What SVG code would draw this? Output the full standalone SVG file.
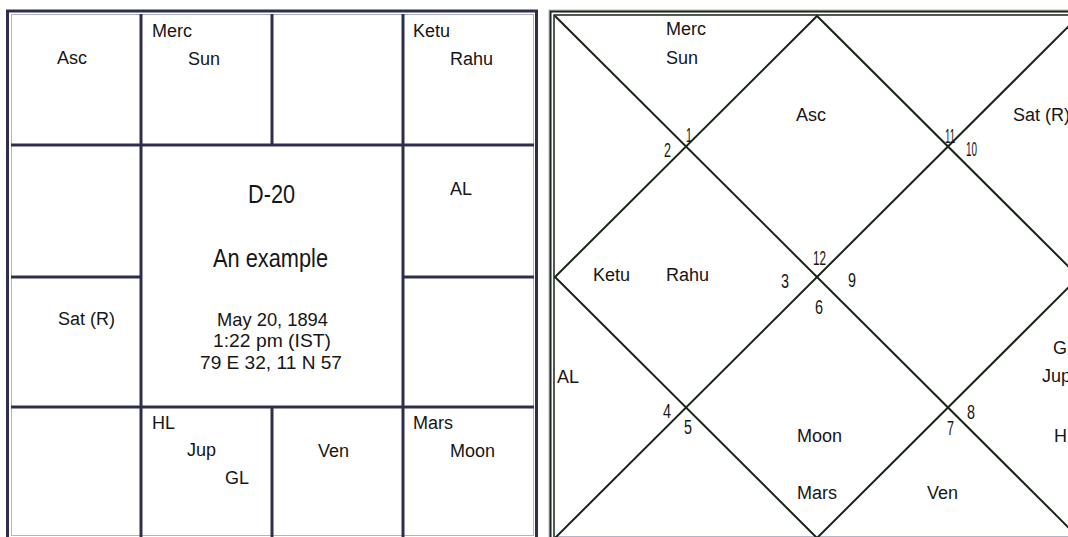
<svg xmlns="http://www.w3.org/2000/svg" width="1068" height="537" viewBox="0 0 1068 537">
<style>
text{font-family:"Liberation Sans",Arial,sans-serif;fill:#161616;font-size:18px}
.big{font-size:26px}
.info{font-size:19px}
.num{font-size:20px}
.grid{stroke:#2f2f4d;stroke-width:3;fill:none}
.edge{stroke:#b4b4c8;stroke-width:1;fill:none}
.nl{stroke:#172417;stroke-width:2;fill:none}
</style>
<rect x="0" y="0" width="1068" height="537" fill="#ffffff"/>
<g id="connectors">
  <rect x="7.5" y="11" width="529" height="530" fill="none" stroke="#2f2f4d" stroke-width="3"/>
  <rect x="11.5" y="14.5" width="522" height="521" class="edge"/>
  <line x1="141" y1="14" x2="141" y2="537" class="grid"/>
  <line x1="403" y1="14" x2="403" y2="537" class="grid"/>
  <line x1="272" y1="14" x2="272" y2="145" class="grid"/>
  <line x1="272" y1="407" x2="272" y2="537" class="grid"/>
  <line x1="11" y1="145" x2="534" y2="145" class="grid"/>
  <line x1="11" y1="407" x2="534" y2="407" class="grid"/>
  <line x1="11" y1="277" x2="141" y2="277" class="grid"/>
  <line x1="403" y1="277" x2="534" y2="277" class="grid"/>
  <rect x="549" y="10" width="540" height="540" class="edge"/>
  <rect x="550.5" y="11.5" width="540" height="540" fill="none" stroke="#172417" stroke-width="2"/>
  <rect x="554" y="15" width="540" height="540" fill="none" stroke="#172417" stroke-width="1.5"/>
  <line x1="555" y1="536.5" x2="1068" y2="536.5" stroke="#b4b4c8" stroke-width="1"/>
  <line x1="555" y1="16" x2="1079" y2="538" class="nl"/>
  <line x1="1079" y1="16" x2="555" y2="538" class="nl"/>
  <polygon points="817,16 555,277 817,538 1079,277" class="nl"/>
</g>
<g id="left-h1"><text x="57" y="64">Asc</text></g>
<g id="left-h2"><text x="152" y="37">Merc</text><text x="188" y="65">Sun</text></g>
<g id="left-h3"></g>
<g id="left-h4"><text x="413" y="37">Ketu</text><text x="450" y="65">Rahu</text></g>
<g id="left-h5"><text x="450" y="195">AL</text></g>
<g id="left-h6"></g>
<g id="left-h7"><text x="413" y="429">Mars</text><text x="450" y="457">Moon</text></g>
<g id="left-h8"><text x="318" y="457">Ven</text></g>
<g id="left-h9"><text x="152" y="429">HL</text><text x="187" y="456">Jup</text><text x="225" y="484">GL</text></g>
<g id="left-h10"></g>
<g id="left-h11"><text x="58" y="325">Sat (R)</text></g>
<g id="left-h12"></g>
<g id="left-center">
  <text class="big" x="248" y="203" textLength="47" lengthAdjust="spacingAndGlyphs">D-20</text>
  <text class="big" x="213" y="267" textLength="115" lengthAdjust="spacingAndGlyphs">An example</text>
  <text class="info" x="217" y="326" textLength="111" lengthAdjust="spacingAndGlyphs">May 20, 1894</text>
  <text class="info" x="213" y="347" textLength="118" lengthAdjust="spacingAndGlyphs">1:22 pm (IST)</text>
  <text class="info" x="200" y="369" textLength="142" lengthAdjust="spacingAndGlyphs">79 E 32, 11 N 57</text>
</g>
<g id="right-h1"><text x="796" y="121">Asc</text><text class="num" x="686" y="142" textLength="6" lengthAdjust="spacingAndGlyphs">1</text></g>
<g id="right-h2"><text x="666" y="35">Merc</text><text x="666" y="64">Sun</text><text class="num" x="664" y="157" textLength="7" lengthAdjust="spacingAndGlyphs">2</text></g>
<g id="right-h3"><text x="593" y="281">Ketu</text><text x="666" y="281">Rahu</text><text class="num" x="781" y="288" textLength="8" lengthAdjust="spacingAndGlyphs">3</text></g>
<g id="right-h4"><text x="557" y="383">AL</text><text class="num" x="663" y="418" textLength="8" lengthAdjust="spacingAndGlyphs">4</text></g>
<g id="right-h5"><text class="num" x="684" y="434" textLength="8" lengthAdjust="spacingAndGlyphs">5</text></g>
<g id="right-h6"><text x="797" y="442">Moon</text><text x="797" y="499">Mars</text><text class="num" x="815" y="314" textLength="8" lengthAdjust="spacingAndGlyphs">6</text></g>
<g id="right-h7"><text x="927" y="499">Ven</text><text class="num" x="947" y="435" textLength="7" lengthAdjust="spacingAndGlyphs">7</text></g>
<g id="right-h8"><text x="1054" y="442">HL</text><text class="num" x="967" y="419" textLength="8" lengthAdjust="spacingAndGlyphs">8</text></g>
<g id="right-h9"><text x="1053" y="354">GL</text><text x="1042" y="382">Jup</text><text class="num" x="848" y="287" textLength="8" lengthAdjust="spacingAndGlyphs">9</text></g>
<g id="right-h10"><text class="num" x="966" y="156" textLength="11" lengthAdjust="spacingAndGlyphs">10</text></g>
<g id="right-h11"><text x="1013" y="121">Sat (R)</text><text class="num" x="945" y="143" textLength="10" lengthAdjust="spacingAndGlyphs">11</text></g>
<g id="right-h12"><text class="num" x="813" y="265" textLength="13" lengthAdjust="spacingAndGlyphs">12</text></g>
</svg>
